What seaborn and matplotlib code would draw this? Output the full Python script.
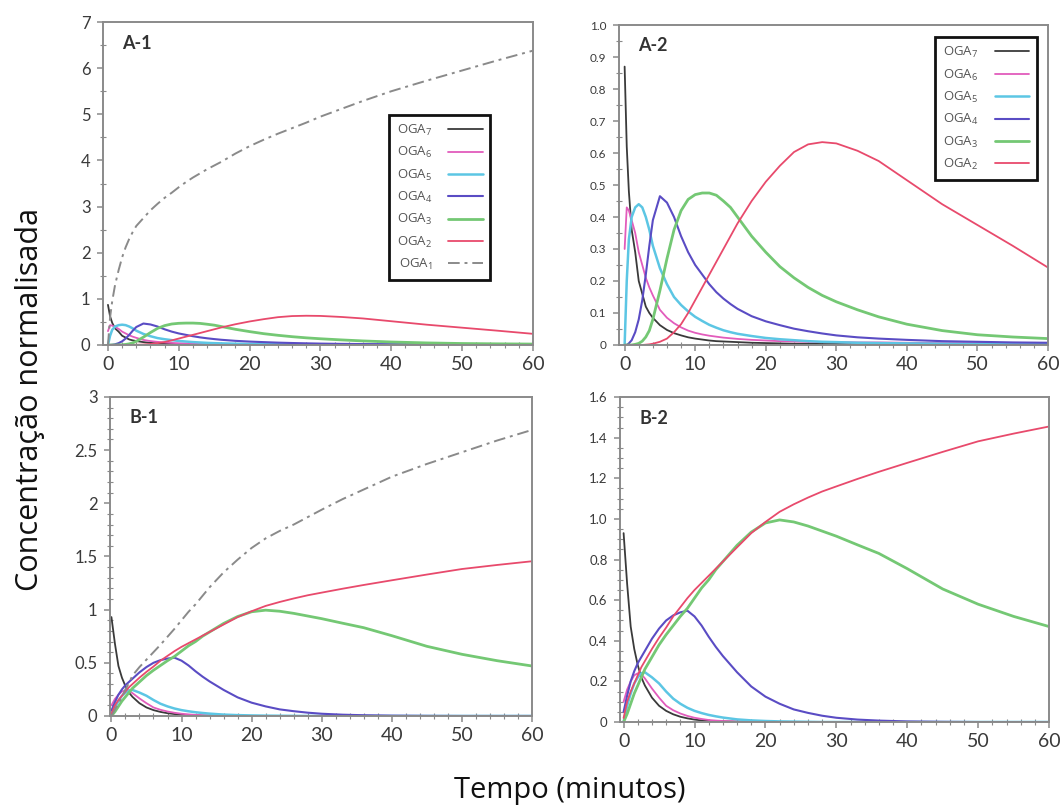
import numpy as np
import pandas as pd
import matplotlib
matplotlib.use("Agg")
import matplotlib.pyplot as plt
import seaborn as sns
from matplotlib.ticker import MultipleLocator, FuncFormatter, FixedLocator

# ---------------- data ----------------
species = ["OGA7", "OGA6", "OGA5", "OGA4", "OGA3", "OGA2", "OGA1"]
legend_labels = ["OGA$_7$", "OGA$_6$", "OGA$_5$", "OGA$_4$", "OGA$_3$", "OGA$_2$", "OGA$_1$"]

# Experiment A (panels A-1 and A-2)
tA = [0, 0.3, 0.6, 1, 1.5, 2, 2.5, 3, 3.5, 4, 5, 6, 7, 8, 9, 10, 11, 12, 13, 14, 15, 16,
      18, 20, 22, 24, 26, 28, 30, 33, 36, 40, 45, 50, 55, 60]
A_OGA7 = [0.87, 0.62, 0.48, 0.36, 0.29, 0.2, 0.16, 0.12, 0.1, 0.085, 0.062, 0.047, 0.037, 0.03,
          0.024, 0.02, 0.017, 0.014, 0.012, 0.011, 0.01, 0.009, 0.007, 0.006, 0.005, 0.004,
          0.004, 0.003, 0.003, 0.002, 0.002, 0.002, 0.001, 0.001, 0.001, 0.001]
A_OGA6 = [0.3, 0.43, 0.42, 0.39, 0.35, 0.29, 0.25, 0.21, 0.18, 0.155, 0.11, 0.085, 0.068, 0.055,
          0.045, 0.038, 0.033, 0.029, 0.026, 0.023, 0.021, 0.019, 0.016, 0.014, 0.012, 0.011,
          0.01, 0.009, 0.009, 0.008, 0.008, 0.007, 0.006, 0.006, 0.005, 0.005]
A_OGA5 = [0, 0.2, 0.33, 0.4, 0.43, 0.44, 0.43, 0.4, 0.36, 0.31, 0.24, 0.19, 0.15, 0.125, 0.105,
          0.088, 0.075, 0.063, 0.054, 0.046, 0.04, 0.035, 0.028, 0.022, 0.018, 0.015, 0.012,
          0.01, 0.009, 0.007, 0.006, 0.005, 0.004, 0.003, 0.002, 0.002]
A_OGA4 = [0, 0, 0.005, 0.015, 0.04, 0.08, 0.14, 0.22, 0.31, 0.39, 0.465, 0.445, 0.4, 0.34, 0.29,
          0.25, 0.22, 0.19, 0.165, 0.145, 0.128, 0.113, 0.09, 0.074, 0.062, 0.051, 0.043, 0.036,
          0.03, 0.024, 0.02, 0.016, 0.012, 0.01, 0.008, 0.007]
A_OGA3 = [0, 0, 0, 0, 0.002, 0.005, 0.012, 0.025, 0.045, 0.08, 0.17, 0.27, 0.36, 0.42, 0.455,
          0.47, 0.475, 0.475, 0.468, 0.45, 0.43, 0.4, 0.34, 0.29, 0.245, 0.21, 0.18, 0.155,
          0.135, 0.11, 0.088, 0.065, 0.045, 0.032, 0.025, 0.02]
A_OGA2 = [0, 0, 0, 0, 0, 0, 0, 0.001, 0.002, 0.004, 0.01, 0.02, 0.04, 0.065, 0.1, 0.14, 0.18,
          0.22, 0.26, 0.3, 0.34, 0.38, 0.45, 0.51, 0.56, 0.603, 0.627, 0.634, 0.63, 0.607,
          0.575, 0.515, 0.44, 0.375, 0.31, 0.242]
A_OGA1 = [0, 0.6, 0.95, 1.3, 1.62, 1.9, 2.12, 2.3, 2.45, 2.58, 2.75, 2.92, 3.06, 3.19, 3.3,
          3.42, 3.53, 3.63, 3.72, 3.81, 3.89, 3.97, 4.15, 4.31, 4.45, 4.58, 4.7, 4.82, 4.95,
          5.12, 5.29, 5.5, 5.73, 5.95, 6.17, 6.38]

# Experiment B (panels B-1 and B-2)
tB = [0, 0.5, 1, 1.5, 2, 2.5, 3, 4, 5, 6, 7, 8, 9, 10, 11, 12, 13, 14, 16, 18, 20, 22, 24,
      26, 28, 30, 33, 36, 40, 45, 50, 55, 60]
B_OGA7 = [0.93, 0.68, 0.47, 0.36, 0.28, 0.22, 0.18, 0.12, 0.08, 0.055, 0.038, 0.026, 0.018,
          0.012, 0.008, 0.006, 0.004, 0.003, 0.002, 0.001, 0, 0, 0, 0, 0, 0, 0, 0, 0, 0, 0, 0, 0]
B_OGA6 = [0.1, 0.16, 0.2, 0.23, 0.24, 0.235, 0.215, 0.165, 0.12, 0.08, 0.058, 0.042, 0.03,
          0.021, 0.015, 0.01, 0.007, 0.005, 0.003, 0.001, 0, 0, 0, 0, 0, 0, 0, 0, 0, 0, 0, 0, 0]
B_OGA5 = [0, 0.08, 0.14, 0.19, 0.22, 0.24, 0.245, 0.22, 0.19, 0.15, 0.115, 0.09, 0.07, 0.055,
          0.044, 0.035, 0.028, 0.022, 0.013, 0.008, 0.005, 0.003, 0.002, 0.001, 0, 0, 0, 0, 0,
          0, 0, 0, 0]
B_OGA4 = [0.05, 0.13, 0.2, 0.25, 0.29, 0.32, 0.35, 0.41, 0.46, 0.5, 0.525, 0.54, 0.548, 0.52,
          0.475, 0.42, 0.37, 0.325, 0.245, 0.175, 0.125, 0.09, 0.062, 0.045, 0.031, 0.021,
          0.012, 0.007, 0.003, 0.001, 0, 0, 0]
B_OGA3 = [0, 0.04, 0.09, 0.14, 0.18, 0.22, 0.26, 0.32, 0.38, 0.43, 0.475, 0.52, 0.56, 0.61,
          0.66, 0.7, 0.75, 0.79, 0.87, 0.935, 0.98, 0.995, 0.985, 0.965, 0.94, 0.915, 0.872,
          0.83, 0.755, 0.655, 0.58, 0.52, 0.47]
B_OGA2 = [0.02, 0.1, 0.15, 0.19, 0.23, 0.27, 0.3, 0.36, 0.415, 0.465, 0.52, 0.565, 0.61, 0.65,
          0.685, 0.72, 0.755, 0.79, 0.86, 0.93, 0.985, 1.035, 1.072, 1.105, 1.135, 1.16, 1.197,
          1.232, 1.276, 1.33, 1.382, 1.42, 1.455]
B_OGA1 = [0, 0.06, 0.12, 0.18, 0.25, 0.31, 0.38, 0.46, 0.53, 0.6, 0.67, 0.745, 0.82, 0.9, 0.98,
          1.05, 1.13, 1.21, 1.35, 1.47, 1.58, 1.67, 1.74, 1.8, 1.87, 1.94, 2.04, 2.13, 2.25,
          2.37, 2.48, 2.59, 2.69]

x_ticks = [0, 10, 20, 30, 40, 50, 60]
yticks_A1 = [0, 1, 2, 3, 4, 5, 6, 7]
yticks_A2 = [0, 0.1, 0.2, 0.3, 0.4, 0.5, 0.6, 0.7, 0.8, 0.9, 1.0]
yticks_B1 = [0, 0.5, 1, 1.5, 2, 2.5, 3]
yticks_B2 = [0, 0.2, 0.4, 0.6, 0.8, 1.0, 1.2, 1.4, 1.6]

# ---------------- style ----------------
sns.set_theme(style="white")
plt.rcParams["font.family"] = ["Open Sans", "DejaVu Sans"]
plt.rcParams["mathtext.fontset"] = "custom"
plt.rcParams["mathtext.rm"] = "Open Sans"
plt.rcParams["mathtext.it"] = "Open Sans"

colors = {"OGA7": "#3a3a3a", "OGA6": "#e25cbc", "OGA5": "#5cc6e4", "OGA4": "#5a4cc4",
          "OGA3": "#74c874", "OGA2": "#e84a6c", "OGA1": "#8a8a8a"}
widths = {"OGA7": 1.3, "OGA6": 1.3, "OGA5": 1.8, "OGA4": 1.5, "OGA3": 2.0, "OGA2": 1.3, "OGA1": 1.4}

def long_df(t, series):
    rows = []
    for name, vals in zip(species, series):
        rows.append(pd.DataFrame({"t": t, "value": vals, "species": name}))
    return pd.concat(rows, ignore_index=True)

dfA = long_df(tA, [A_OGA7, A_OGA6, A_OGA5, A_OGA4, A_OGA3, A_OGA2, A_OGA1])
dfB = long_df(tB, [B_OGA7, B_OGA6, B_OGA5, B_OGA4, B_OGA3, B_OGA2, B_OGA1])

fig = plt.figure(figsize=(10.63, 8.07), dpi=100)
axA1 = fig.add_axes([0.0969, 0.5725, 0.4045, 0.4002])
axA2 = fig.add_axes([0.5823, 0.5725, 0.4036, 0.3965])
axB1 = fig.add_axes([0.1035, 0.1128, 0.3970, 0.3953])
axB2 = fig.add_axes([0.5833, 0.1053, 0.4036, 0.4027])

def draw(ax, df, include_oga1):
    handles = []
    for name, lab in zip(species, legend_labels):
        if name == "OGA1" and not include_oga1:
            continue
        sub = df[df["species"] == name]
        sns.lineplot(data=sub, x="t", y="value", ax=ax, color=colors[name],
                     linewidth=widths[name], label=lab, legend=False, sort=False,
                     estimator=None)
        line = ax.get_lines()[-1]
        if name == "OGA1":
            line.set_dashes([6, 2.5, 1.5, 2.5])
        handles.append(line)
    return handles

hA1 = draw(axA1, dfA, True)
hA2 = draw(axA2, dfA, False)
hB1 = draw(axB1, dfB, True)
hB2 = draw(axB2, dfB, False)

def fmt_general(v, pos):
    if abs(v) < 1e-9:
        return "0"
    return ("%g" % v)

def fmt_onedec(v, pos):
    if abs(v) < 1e-9:
        return "0"
    return "%.1f" % v

tick_font = ["Lato", "DejaVu Sans"]
spine_col = "#8a8a8a"

def style_axis(ax, xlim, ylim, yticks, yminor, yfmt, ysize, panel):
    ax.set_xlim(*xlim)
    ax.set_ylim(*ylim)
    ax.xaxis.set_major_locator(FixedLocator(x_ticks))
    ax.xaxis.set_minor_locator(MultipleLocator(2))
    ax.yaxis.set_major_locator(FixedLocator(yticks))
    ax.yaxis.set_minor_locator(MultipleLocator(yminor))
    ax.yaxis.set_major_formatter(FuncFormatter(yfmt))
    ax.set_xlabel("")
    ax.set_ylabel("")
    for s in ax.spines.values():
        s.set_color(spine_col)
        s.set_linewidth(1.4)
        s.set_visible(True)
    ax.tick_params(axis="both", which="major", direction="out", length=4, width=1.1,
                   color=spine_col, bottom=True, left=True)
    ax.tick_params(axis="both", which="minor", direction="inout", length=4, width=0.8,
                   color=spine_col, bottom=True, left=True)
    ax.tick_params(axis="x", labelsize=14, labelcolor="#3a3a3a", pad=4)
    ax.tick_params(axis="y", labelsize=ysize, labelcolor="#3a3a3a", pad=5)
    for lab in ax.get_xticklabels() + ax.get_yticklabels():
        lab.set_fontfamily(tick_font)
    ax.text(0.045, 0.935, panel, transform=ax.transAxes, fontsize=13, fontweight="bold",
            color="#333333", ha="left", va="center", family=tick_font)

style_axis(axA1, (-0.7, 60), (0, 7), yticks_A1, 0.5, fmt_general, 12, "A-1")
style_axis(axA2, (-0.8, 60), (0, 1.0), yticks_A2, 0.05, fmt_onedec, 8.5, "A-2")
style_axis(axB1, (-0.2, 60), (0, 3), yticks_B1, 0.1, fmt_general, 12, "B-1")
style_axis(axB2, (-0.5, 60), (0, 1.6), yticks_B2, 0.05, fmt_onedec, 9.5, "B-2")

def add_legend(ax, handles, anchor):
    leg = ax.legend(handles=handles, loc="upper left", bbox_to_anchor=anchor,
                    markerfirst=False, frameon=True, fancybox=False, fontsize=9.5,
                    handlelength=2.6, handletextpad=1.2, labelspacing=0.55,
                    borderpad=0.6, borderaxespad=0.0)
    fr = leg.get_frame()
    fr.set_edgecolor("#111111")
    fr.set_linewidth(2.0)
    fr.set_facecolor("white")
    fr.set_alpha(1.0)
    for txt in leg.get_texts():
        txt.set_color("#555555")
    return leg

add_legend(axA1, hA1, (0.665, 0.712))
add_legend(axA2, hA2, (0.737, 0.962))

fig.text(0.028, 0.505, "Concentração normalisada", rotation=90, ha="center", va="center",
         fontsize=22, color="#111111")
fig.text(0.536, 0.021, "Tempo (minutos)", ha="center", va="center", fontsize=21,
         color="#111111")

fig.savefig("out.png", dpi=100, facecolor="white")
